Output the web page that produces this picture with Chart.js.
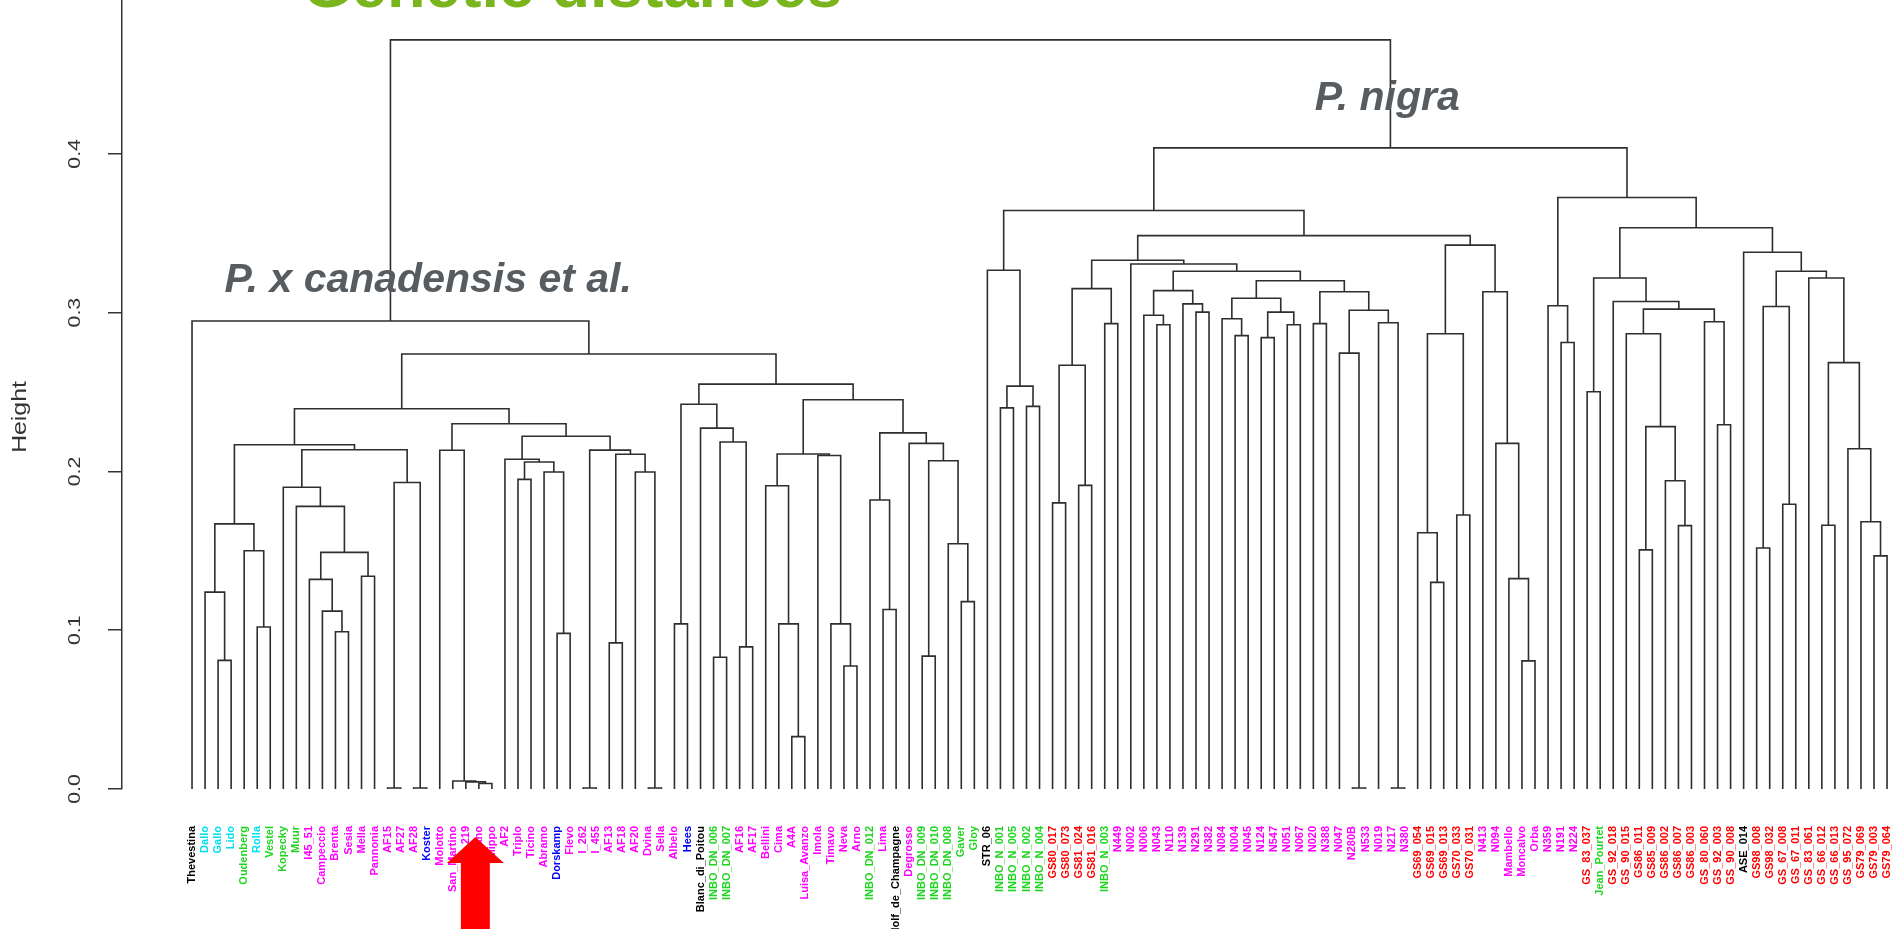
<html>
  <head>
    <meta charset="utf-8">
    <style>
      body { margin: 0; background: #fff; overflow: hidden; }
      #wrap { position: relative; width: 1901px; height: 929px; }
    </style>
  </head>
  <body>
    <script src="https://cdnjs.cloudflare.com/ajax/libs/Chart.js/4.4.1/chart.umd.min.js"></script>
    <div id="wrap"><canvas id="myChart"></canvas></div>

    <script>
      // leaves, left to right
      const leafLabels = [
        'Thevestina', 'Dallo', 'Gallo', 'Lido', 'Oudenberg', 'Rolla', 'Vestel', 'Kopecky', 'Muur', 'I45_51',
        'Campeccio', 'Brenta', 'Sesia', 'Mella', 'Pannonia', 'AF15', 'AF27', 'AF28', 'Koster', 'Molotto',
        'San_Martino', 'I_219', 'Marano', 'Filippo', 'AF2', 'Triplo', 'Ticino', 'Abramo', 'Dorskamp', 'Flevo',
        'I_262', 'I_455', 'AF13', 'AF18', 'AF20', 'Dvina', 'Sella', 'Albelo', 'Hees', 'Blanc_di_Poitou',
        'INBO_DN_006', 'INBO_DN_007', 'AF16', 'AF17', 'Bellini', 'Cima', 'A4A', 'Luisa_Avanzo', 'Imola', 'Timavo',
        'Neva', 'Arno', 'INBO_DN_012', 'Lima', 'Rudolf_de_Champagne', 'Degrosso', 'INBO_DN_009', 'INBO_DN_010', 'INBO_DN_008', 'Gaver',
        'Gloy', 'STR_06', 'INBO_N_001', 'INBO_N_005', 'INBO_N_002', 'INBO_N_004', 'GS80_017', 'GS80_073', 'GS81_024', 'GS81_016',
        'INBO_N_003', 'N449', 'N002', 'N006', 'N043', 'N110', 'N139', 'N291', 'N382', 'N084',
        'N004', 'N045', 'N124', 'N547', 'N051', 'N067', 'N020', 'N388', 'N047', 'N280B',
        'N533', 'N019', 'N217', 'N380', 'GS69_054', 'GS69_015', 'GS69_013', 'GS70_033', 'GS70_031', 'N413',
        'N094', 'Mambello', 'Moncalvo', 'Orba', 'N359', 'N191', 'N224', 'GS_83_037', 'Jean_Pourtet', 'GS_92_018',
        'GS_90_015', 'GS86_011', 'GS85_009', 'GS86_002', 'GS86_007', 'GS86_003', 'GS_80_060', 'GS_92_003', 'GS_90_008', 'ASE_014',
        'GS98_008', 'GS98_032', 'GS_67_008', 'GS_67_011', 'GS_83_061', 'GS_66_012', 'GS_66_013', 'GS_95_072', 'GS79_069', 'GS79_003',
        'GS79_064'
      ];
      // label colour group of every leaf
      const leafGroups = [
        'k','c','c','c','g','c','g','g','g','m',
        'm','m','m','m','m','m','m','m','b','m',
        'm','m','m','m','m','m','m','m','b','m',
        'm','m','m','m','m','m','m','m','b','k',
        'g','g','m','m','m','m','m','m','m','m',
        'm','m','g','m','k','m','g','g','g','g',
        'g','k','g','g','g','g','r','r','r','r',
        'g','m','m','m','m','m','m','m','m','m',
        'm','m','m','m','m','m','m','m','m','m',
        'm','m','m','m','r','r','r','r','r','m',
        'm','m','m','m','m','m','m','r','g','r',
        'r','r','r','r','r','r','r','r','r','k',
        'r','r','r','r','r','r','r','r','r','r',
        'r'
      ];
      const groupColors = { k: '#000000', c: '#00E0F0', g: '#1ED51E', m: '#FF00FF', b: '#0000FF', r: '#FF0000' };

      // merge table like R hclust: negative = leaf number, positive = earlier merge row
      const merges = [
        [-3, -4], [-2, 1], [-6, -7], [-5, 3], [2, 4], [-12, -13], [-11, 6], [-10, 7], [-14, -15], [8, 9],
        [-9, 10], [-8, 11], [-16, -17], [-18, -19], [13, 14], [12, 15], [5, 16], [-23, -24], [-22, 18], [-21, 19],
        [-20, 20], [-26, -27], [-29, -30], [-28, 23], [22, 24], [-25, 25], [-31, -32], [-33, -34], [-36, -37], [-35, 29],
        [28, 30], [27, 31], [26, 32], [21, 33], [17, 34], [-38, -39], [-41, -42], [-43, -44], [37, 38], [-40, 39],
        [36, 40], [-47, -48], [-46, 42], [-45, 43], [-51, -52], [-50, 45], [-49, 46], [44, 47], [-54, -55], [-53, 49],
        [-57, -58], [-60, -61], [-59, 52], [51, 53], [-56, 54], [50, 55], [48, 56], [41, 57], [35, 58], [-1, 59],
        [-63, -64], [-65, -66], [61, 62], [-62, 63], [-67, -68], [-69, -70], [65, 66], [-71, -72], [67, 68], [-75, -76],
        [-74, 70], [-78, -79], [-77, 72], [71, 73], [-81, -82], [-80, 75], [-83, -84], [-85, -86], [77, 78], [76, 79],
        [-87, -88], [-90, -91], [-89, 82], [-93, -94], [-92, 84], [83, 85], [81, 86], [80, 87], [74, 88], [-73, 89],
        [69, 90], [-96, -97], [-95, 92], [-98, -99], [93, 94], [-103, -104], [-102, 96], [-101, 97], [-100, 98], [95, 99],
        [91, 100], [64, 101], [-106, -107], [-105, 103], [-108, -109], [-112, -113], [-115, -116], [-114, 107], [106, 108], [-111, 109],
        [-118, -119], [-117, 111], [110, 112], [-110, 113], [105, 114], [-121, -122], [-123, -124], [116, 117], [-126, -127], [-130, -131],
        [-129, 120], [-128, 121], [119, 122], [-125, 123], [118, 124], [-120, 125], [115, 126], [104, 127], [102, 128], [60, 129]
      ];
      const heights = [
        0.081, 0.124, 0.102, 0.150, 0.167, 0.099, 0.112, 0.132, 0.134, 0.149,
        0.178, 0.190, 0.0006, 0.0006, 0.193, 0.2137, 0.2168, 0.0035, 0.0045, 0.005,
        0.2133, 0.195, 0.098, 0.1996, 0.2059, 0.2077, 0.0006, 0.092, 0.0006, 0.1996,
        0.2108, 0.2134, 0.2222, 0.230, 0.2395, 0.104, 0.083, 0.0895, 0.2185, 0.2273,
        0.2423, 0.033, 0.104, 0.191, 0.0775, 0.104, 0.2100, 0.2110, 0.113, 0.182,
        0.0837, 0.118, 0.1545, 0.2067, 0.2177, 0.2243, 0.2451, 0.255, 0.274, 0.2947,
        0.240, 0.241, 0.2537, 0.3267, 0.1802, 0.1912, 0.2669, 0.2931, 0.3151, 0.2924,
        0.2984, 0.3003, 0.3055, 0.3139, 0.2855, 0.2962, 0.2843, 0.2924, 0.3003, 0.3091,
        0.2931, 0.0006, 0.2745, 0.0006, 0.2936, 0.3015, 0.3132, 0.3201, 0.3261, 0.3306,
        0.3330, 0.1301, 0.1614, 0.1726, 0.2867, 0.0807, 0.1325, 0.2177, 0.3132, 0.3425,
        0.3485, 0.3643, 0.2812, 0.3043, 0.2502, 0.1506, 0.1659, 0.1941, 0.2282, 0.2867,
        0.2294, 0.2943, 0.3022, 0.3070, 0.3218, 0.1518, 0.1793, 0.3039, 0.1661, 0.1468,
        0.1683, 0.2143, 0.2685, 0.3218, 0.3261, 0.3380, 0.3535, 0.3725, 0.4038, 0.4718
      ];

      const yTicks = [0, 0.1, 0.2, 0.3, 0.4];

      // dendrogram segments: each merge is one U shape
      let nodeX = [], nodeH = [];
      function posOf(id) { return id < 0 ? -id : nodeX[id - 1]; }
      function hOf(id) { return id < 0 ? 0 : nodeH[id - 1]; }
      let datasets = [];
      merges.forEach(function (m, i) {
        let xa = posOf(m[0]), xb = posOf(m[1]), h = heights[i];
        datasets.push({
          data: [{ x: xa, y: hOf(m[0]) }, { x: xa, y: h }, { x: xb, y: h }, { x: xb, y: hOf(m[1]) }],
          showLine: true,
          borderColor: '#2e2e2e',
          borderWidth: 1.6,
          pointRadius: 0,
          tension: 0,
          fill: false
        });
        nodeX.push((xa + xb) / 2);
        nodeH.push(h);
      });

      // text and arrow drawn on top
      const annotate = {
        id: 'annotate',
        afterDraw(chart) {
          let ctx = chart.ctx, x = chart.scales.x, y = chart.scales.y;
          ctx.save();

          // y tick labels, rotated like R
          ctx.fillStyle = '#333';
          ctx.font = '16px "Liberation Sans", Arial, sans-serif';
          ctx.textAlign = 'center';
          ctx.textBaseline = 'alphabetic';
          yTicks.forEach(function (v) {
            ctx.save();
            ctx.translate(80, y.getPixelForValue(v));
            ctx.rotate(-Math.PI / 2);
            ctx.scale(1.33, 1);
            ctx.fillText(v.toFixed(1), 0, 0);
            ctx.restore();
          });

          // axis title
          ctx.save();
          ctx.font = '20px "Liberation Sans", Arial, sans-serif';
          ctx.translate(26, 417);
          ctx.rotate(-Math.PI / 2);
          ctx.scale(1.24, 1);
          ctx.fillText('Height', 0, 0);
          ctx.restore();

          // title (cut at the top edge)
          ctx.textAlign = 'left';
          ctx.fillStyle = '#7AB51D';
          ctx.font = 'bold 63px "Liberation Sans", Arial, sans-serif';
          ctx.fillText('Genetic distances', x.getPixelForValue(9.5), y.getPixelForValue(0.4925));

          // group names
          ctx.fillStyle = '#575C61';
          ctx.font = 'italic bold 41px "Liberation Sans", Arial, sans-serif';
          ctx.fillText('P. nigra', x.getPixelForValue(87.1), y.getPixelForValue(0.4276));
          ctx.fillText('P. x canadensis et al.', x.getPixelForValue(3.5), y.getPixelForValue(0.313));

          // red arrow pointing at the clone
          let cx = x.getPixelForValue(22.73);
          ctx.fillStyle = '#FF0000';
          ctx.beginPath();
          ctx.moveTo(cx, 837);
          ctx.lineTo(cx + 28.5, 863);
          ctx.lineTo(cx + 14.5, 863);
          ctx.lineTo(cx + 14.5, 929);
          ctx.lineTo(cx - 14.5, 929);
          ctx.lineTo(cx - 14.5, 863);
          ctx.lineTo(cx - 28.5, 863);
          ctx.closePath();
          ctx.fill();

          ctx.restore();
        }
      };

      let ctx = document.getElementById('myChart').getContext('2d');
      let myChart = new Chart(ctx, {
        type: 'scatter',
        data: { datasets: datasets },
        plugins: [annotate],
        options: {
          responsive: true,
          maintainAspectRatio: false,
          animation: false,
          devicePixelRatio: 1,
          layout: { padding: 0 },
          plugins: { legend: { display: false }, tooltip: { enabled: false } },
          scales: {
            x: {
              type: 'linear',
              min: -4.37,
              max: 132.07,
              grid: { display: false, drawTicks: false },
              border: { display: false },
              afterBuildTicks: function (s) {
                s.ticks = leafLabels.map(function (l, i) { return { value: i + 1 }; });
              },
              afterFit: function (s) {
                s.height = 140;
                s.paddingLeft = 0;
                s.paddingRight = 0;
              },
              ticks: {
                autoSkip: false,
                minRotation: 90,
                maxRotation: 90,
                padding: 37,
                font: { family: '"Liberation Sans", Arial, sans-serif', size: 11, weight: 'bold' },
                color: function (c) { return groupColors[leafGroups[c.index]]; },
                callback: function (v, i) { return leafLabels[i]; }
              }
            },
            y: {
              min: 0,
              max: 0.4969,
              grid: { drawOnChartArea: false, drawTicks: true, tickLength: 14, color: '#333', lineWidth: 1.5 },
              border: { display: true, color: '#333', width: 1.5 },
              afterBuildTicks: function (s) {
                s.ticks = yTicks.map(function (v) { return { value: v }; });
              },
              afterFit: function (s) {
                s.width = 122;
                s.paddingTop = 0;
                s.paddingBottom = 0;
              },
              ticks: { display: false }
            }
          }
        }
      });
    </script>
  </body>
</html>
